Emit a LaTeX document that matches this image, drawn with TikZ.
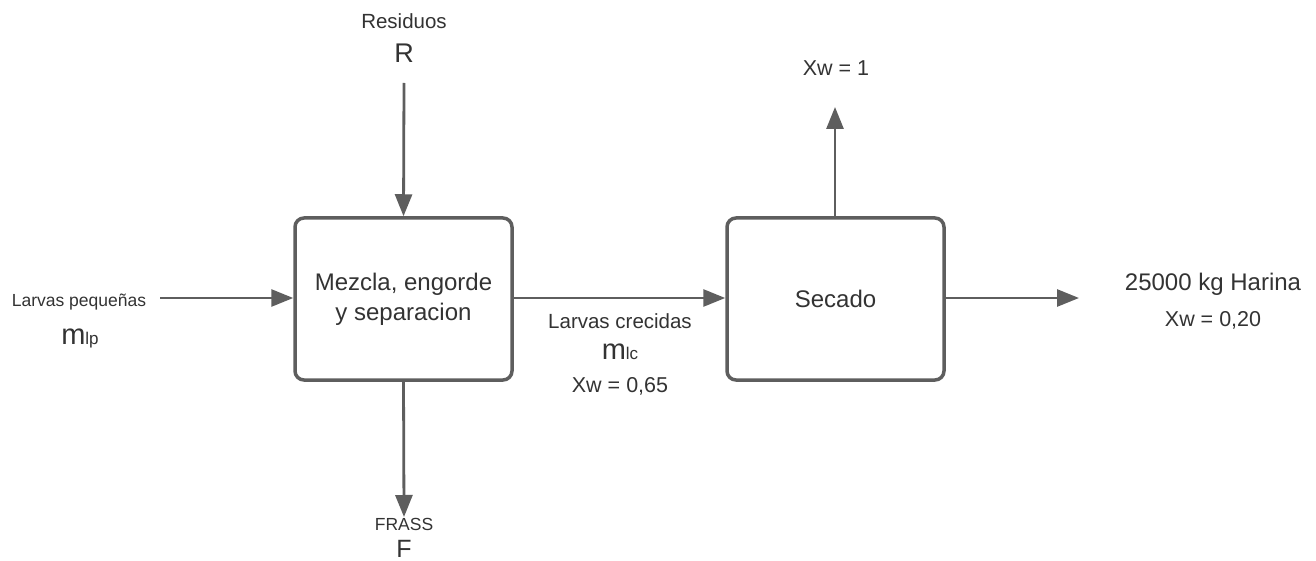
\documentclass[tikz,border=0pt]{standalone}
\usepackage{fontspec}
\setmainfont{Liberation Sans}
\usetikzlibrary{arrows.meta}
\definecolor{ln}{HTML}{5E5E5E}
\definecolor{tx}{HTML}{333333}
\newcommand{\fs}[1]{\fontsize{#1}{#1}\selectfont}
\tikzset{
  procbox/.style={draw=ln, line width=3.5pt, rounded corners=9pt, minimum width=217pt, minimum height=162pt, inner sep=0pt, align=center, text=tx, font=\fs{24}},
  flow/.style={draw=ln, line width=2.8pt, -{Triangle[length=22pt,width=17pt]}},
  lbl/.style={inner sep=0pt, text=tx, anchor=center}
}
\begin{document}
\begin{tikzpicture}[x=1pt,y=-1pt]
\useasboundingbox[fill=white] (0,0) rectangle (1316,561);
\node[procbox] (mix) at (403.5,299) {Mezcla, engorde\\[6pt]y separacion};
\node[procbox] (dry) at (835.5,299) {Secado};
\coordinate (rtop) at (404,83);
\coordinate (lin) at (160,298);
\coordinate (fend) at (404,517);
\coordinate (wtop) at (835,107);
\coordinate (hend) at (1079,298);
\draw[flow] (rtop) -- (mix.north);
\draw[flow] (lin) -- (lin -| mix.west);
\draw[flow] (mix.south) -- (fend);
\draw[flow] (mix.east |- lin) -- (dry.west |- lin);
\draw[flow] (dry.north -| wtop) -- (wtop);
\draw[flow] (dry.east |- lin) -- (hend);
\node[lbl, font=\fs{20.5}] (res) at (404,21) {Residuos};
\node[lbl, font=\fs{27}] (r) at (404,53) {R};
\node[lbl, font=\fs{17.5}] (lp) at (79,302) {Larvas pequeñas};
\node[lbl] (mlp) at (80,338) {{\fs{29}m}{\fs{17}lp}};
\node[lbl, font=\fs{20.5}] (lc) at (620,321) {Larvas crecidas};
\node[lbl] (mlc) at (620,352) {{\fs{29}m}{\fs{17}lc}};
\node[lbl, font=\fs{21.5}] (x65) at (620,386) {Xw = 0,65};
\node[lbl, font=\fs{21.5}] (x1) at (836,68) {Xw = 1};
\node[lbl, font=\fs{24}] (har) at (1213,284) {25000 kg Harina};
\node[lbl, font=\fs{21.5}] (x20) at (1213,320) {Xw = 0,20};
\node[lbl, font=\fs{17.5}] (frass) at (404,524) {FRASS};
\node[inner sep=0pt, text=tx, anchor=base, font=\fs{25}] (f) at (404,557.5) {F};
\end{tikzpicture}
\end{document}
